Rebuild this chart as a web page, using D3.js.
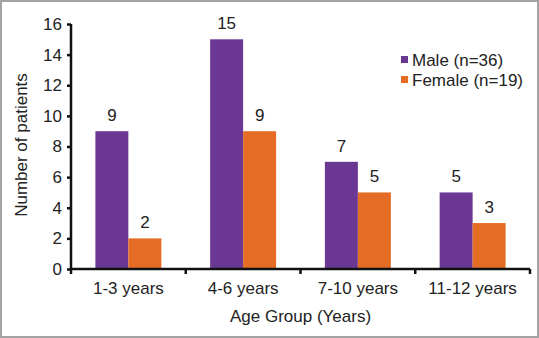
<!DOCTYPE html>
<html>
<head>
<meta charset="utf-8">
<script src="https://cdn.jsdelivr.net/npm/d3@7"></script>
<style>
  body { margin: 0; background: #fff; }
  text { font-family: "Liberation Sans", Arial, sans-serif; fill: #222; }
</style>
</head>
<body>
<div id="chart"></div>
<script>

var categories = ["1-3 years", "4-6 years", "7-10 years", "11-12 years"];
var seriesNames = ["Male (n=36)", "Female (n=19)"];
var maleValues = [9, 15, 7, 5];
var femaleValues = [2, 9, 5, 3];
var yTicks = [0, 2, 4, 6, 8, 10, 12, 14, 16];
var colors = ["#6a3893", "#e46c24"];

var width = 539, height = 338;
var margin = {left: 71, right: 9, top: 24, bottom: 69};
var plotW = width - margin.left - margin.right;
var plotH = height - margin.top - margin.bottom;

var svg = d3.select("#chart").append("svg")
  .attr("width", width)
  .attr("height", height);

// outer frame
svg.append("rect")
  .attr("x", 1).attr("y", 1)
  .attr("width", width - 2).attr("height", height - 2)
  .attr("fill", "none")
  .attr("stroke", "#a3a3a3")
  .attr("stroke-width", 2);

var g = svg.append("g")
  .attr("transform", "translate(" + margin.left + "," + margin.top + ")");

var x = d3.scaleBand()
  .domain(categories)
  .range([0, plotW])
  .paddingInner(0.425)
  .paddingOuter(0.2125);

var xSub = d3.scaleBand()
  .domain([0, 1])
  .range([0, x.bandwidth()]);

var y = d3.scaleLinear()
  .domain([0, 16])
  .range([plotH, 0]);

var rows = categories.map(function(c, i) {
  return {cat: c, vals: [maleValues[i], femaleValues[i]]};
});

var groups = g.selectAll(".grp").data(rows)
  .enter().append("g")
  .attr("class", "grp")
  .attr("transform", function(d) { return "translate(" + x(d.cat) + ",0)"; });

groups.each(function(d) {
  var gg = d3.select(this);
  d.vals.forEach(function(v, j) {
    gg.append("rect")
      .attr("x", xSub(j))
      .attr("y", y(v))
      .attr("width", xSub.bandwidth())
      .attr("height", plotH - y(v))
      .attr("fill", colors[j]);
    gg.append("text")
      .attr("x", xSub(j) + xSub.bandwidth() / 2)
      .attr("y", y(v) - 10)
      .attr("text-anchor", "middle")
      .style("font-size", "17px")
      .text(v);
  });
});

// y axis
var yAxis = g.append("g")
  .call(d3.axisLeft(y).tickValues(yTicks).tickSize(4).tickPadding(5));
yAxis.select(".domain").attr("stroke", "#111").attr("stroke-width", 2.5)
  .attr("d", "M0," + (plotH + 1) + "V0");
yAxis.selectAll(".tick line").attr("stroke", "#111").attr("stroke-width", 2.5);
yAxis.selectAll(".tick text").style("font-size", "17px").attr("fill", "#222")
  .style("font-family", "Liberation Sans, Arial, sans-serif");

// x axis: ticks at band boundaries
var xAxisG = g.append("g").attr("transform", "translate(0," + plotH + ")");
xAxisG.append("line")
  .attr("x1", 0).attr("x2", plotW)
  .attr("stroke", "#111").attr("stroke-width", 2.5);
var bounds = categories.map(function(c) { return x(c) - x.step() * x.paddingInner() / 2; });
bounds.push(plotW);
xAxisG.selectAll(".xt").data(bounds)
  .enter().append("line")
  .attr("x1", function(d) { return d; })
  .attr("x2", function(d) { return d; })
  .attr("y1", 0).attr("y2", 5)
  .attr("stroke", "#111").attr("stroke-width", 2.5);
xAxisG.selectAll(".xl").data(categories)
  .enter().append("text")
  .attr("x", function(d) { return x(d) + x.bandwidth() / 2; })
  .attr("y", 25)
  .attr("text-anchor", "middle")
  .style("font-size", "17px")
  .text(function(d) { return d; });

// axis titles
svg.append("text")
  .attr("x", margin.left + plotW / 2)
  .attr("y", 322)
  .attr("text-anchor", "middle")
  .style("font-size", "17px")
  .text("Age Group (Years)");

svg.append("text")
  .attr("transform", "translate(27,145) rotate(-90)")
  .attr("text-anchor", "middle")
  .style("font-size", "17px")
  .text("Number of patients");

// legend
var legend = svg.append("g").attr("transform", "translate(401,60)");
seriesNames.forEach(function(name, i) {
  legend.append("rect")
    .attr("x", 0).attr("y", i * 20 - 4)
    .attr("width", 7).attr("height", 7)
    .attr("fill", colors[i]);
  legend.append("text")
    .attr("x", 11).attr("y", i * 20 + 6)
    .style("font-size", "17px")
    .text(name);
});
</script>
</body>
</html>
